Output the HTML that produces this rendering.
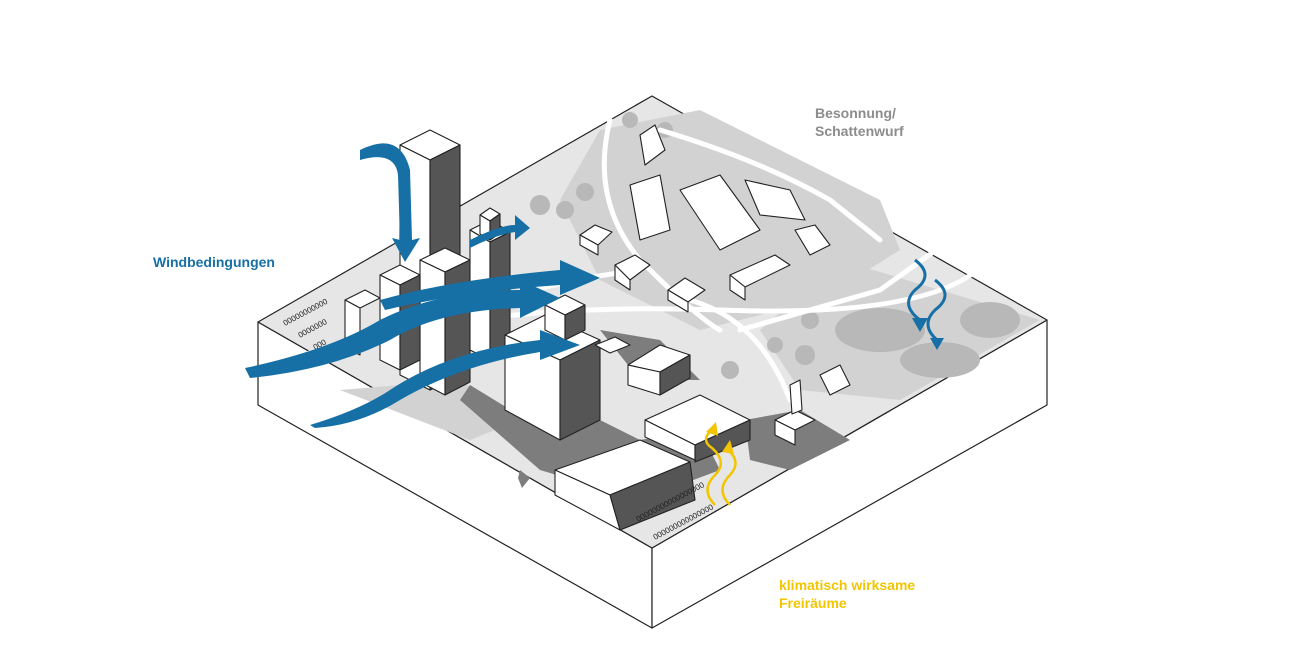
<!DOCTYPE html>
<html><head><meta charset="utf-8"><style>
html,body{margin:0;padding:0;background:#fff;width:1300px;height:668px;overflow:hidden}
svg{display:block}
.lbl{font-family:"Liberation Sans",sans-serif;font-weight:bold;font-size:14px}
.car{font-family:"Liberation Sans",sans-serif;font-weight:normal;font-size:8px;fill:#222}
</style></head><body>
<svg width="1300" height="668" viewBox="0 0 1300 668" xmlns="http://www.w3.org/2000/svg">
<g stroke="#222" stroke-width="1.2" stroke-linejoin="round">
<polygon points="258,322 652,548 652,628 258,405" fill="#fff"/>
<polygon points="652,548 1047,320 1047,405 652,628" fill="#fff"/>
<polygon points="258,322 652,96 1047,320 652,548" fill="#e6e6e6"/>
</g>
<g fill="#d2d2d2">
<polygon points="600,130 700,110 880,200 900,250 820,300 700,330 600,280 560,200"/>
<polygon points="840,260 1040,320 900,400 800,390 760,330"/>
<polygon points="340,390 460,380 520,420 470,440"/>
</g>
<g fill="#b8b8b8">
<ellipse cx="880" cy="330" rx="45" ry="22"/>
<ellipse cx="940" cy="360" rx="40" ry="18"/>
<ellipse cx="990" cy="320" rx="30" ry="18"/>
<circle cx="540" cy="205" r="10"/><circle cx="565" cy="210" r="9"/><circle cx="585" cy="192" r="9"/>
<circle cx="810" cy="320" r="9"/><circle cx="805" cy="355" r="10"/><circle cx="775" cy="345" r="8"/>
<circle cx="730" cy="370" r="9"/><circle cx="630" cy="120" r="8"/><circle cx="665" cy="130" r="8"/>
</g>
<g fill="#7d7d7d">
<polygon points="470,385 560,440 600,420 640,440 700,430 720,470 640,500 540,470 460,400"/>
<polygon points="600,330 660,340 700,380 640,380"/>
<polygon points="745,420 800,410 850,440 790,470 750,460"/>
<polygon points="520,470 530,478 522,488 518,478"/>
</g>
<g stroke="#fff" stroke-width="5" fill="none" stroke-linecap="round">
<path d="M258,370 Q450,300 720,310 T1000,230"/>
<path d="M610,120 Q590,200 640,260 Q700,320 720,330"/>
<path d="M640,270 Q560,280 500,300"/>
<path d="M690,300 Q760,320 790,400"/>
<path d="M740,330 L880,290 L950,240"/>
<path d="M660,130 Q760,160 830,200 L880,240"/>
</g>
<g stroke="#222" stroke-width="1.1" stroke-linejoin="round">
<polygon points="400,145 430,130 460,145 430,160" fill="#fff"/>
<polygon points="400,145 430,160 430,390 400,375" fill="#fff"/>
<polygon points="430,160 460,145 460,375 430,390" fill="#555"/>
<polygon points="420,260 445,248 470,260 445,272" fill="#fff"/>
<polygon points="420,260 445,272 445,395 420,382" fill="#fff"/>
<polygon points="445,272 470,260 470,382 445,395" fill="#555"/>
<polygon points="470,230 490,220 510,232 490,242" fill="#fff"/>
<polygon points="470,230 490,242 490,360 470,350" fill="#fff"/>
<polygon points="490,242 510,232 510,350 490,360" fill="#555"/>
<polygon points="480,215 490,208 500,214 490,221" fill="#fff"/>
<polygon points="480,215 490,221 490,240 480,234" fill="#fff"/>
<polygon points="490,221 500,214 500,233 490,240" fill="#555"/>
<polygon points="380,275 400,265 420,275 400,285" fill="#fff"/>
<polygon points="380,275 400,285 400,370 380,360" fill="#fff"/>
<polygon points="400,285 420,275 420,360 400,370" fill="#555"/>
<polygon points="345,300 365,290 380,298 360,308" fill="#fff"/>
<polygon points="345,300 360,308 360,355 345,347" fill="#fff"/>
<polygon points="505,335 545,315 600,340 560,360" fill="#fff"/>
<polygon points="505,335 560,360 560,440 505,410" fill="#fff"/>
<polygon points="560,360 600,340 600,420 560,440" fill="#555"/>
<polygon points="545,305 565,295 585,305 565,315" fill="#fff"/>
<polygon points="545,305 565,315 565,340 545,330" fill="#fff"/>
<polygon points="565,315 585,305 585,330 565,340" fill="#555"/>
<polygon points="595,345 615,337 630,345 610,353" fill="#fff"/>
<polygon points="628,365 660,345 690,355 660,372" fill="#fff"/>
<polygon points="628,365 660,372 660,395 628,385" fill="#fff"/>
<polygon points="660,372 690,355 690,378 660,395" fill="#555"/>
<polygon points="555,470 640,440 690,462 610,495" fill="#fff"/>
<polygon points="555,470 610,495 620,530 555,495" fill="#fff"/>
<polygon points="610,495 690,462 695,500 620,530" fill="#555"/>
<polygon points="645,420 700,395 750,420 695,445" fill="#fff"/>
<polygon points="645,420 695,445 695,460 645,437" fill="#fff"/>
<polygon points="695,445 750,420 750,440 695,462" fill="#555"/>
<polygon points="580,235 595,225 612,232 598,245" fill="#fff"/>
<polygon points="580,235 598,245 598,255 580,245" fill="#fff"/>
<polygon points="615,265 635,255 650,265 630,280" fill="#fff"/>
<polygon points="615,265 630,280 630,290 615,280" fill="#fff"/>
<polygon points="668,290 685,278 705,290 688,302" fill="#fff"/>
<polygon points="668,290 688,302 688,312 668,300" fill="#fff"/>
<polygon points="730,275 775,255 790,265 745,287" fill="#fff"/>
<polygon points="730,275 745,287 745,300 730,290" fill="#fff"/>
<polygon points="680,190 720,175 760,230 720,250" fill="#fff"/>
<polygon points="630,185 660,175 670,230 640,240" fill="#fff"/>
<polygon points="640,135 655,125 665,150 645,165" fill="#fff"/>
<polygon points="745,180 790,190 805,220 760,215" fill="#fff"/>
<polygon points="795,230 815,225 830,245 810,255" fill="#fff"/>
<polygon points="820,375 840,365 850,385 830,395" fill="#fff"/>
<polygon points="775,420 795,410 815,420 795,430" fill="#fff"/>
<polygon points="775,420 795,430 795,445 775,435" fill="#fff"/>
<polygon points="790,385 800,380 802,410 792,414" fill="#fff"/>
</g>
<text class="car" x="285" y="326" transform="rotate(-28 285 326)">00000000000</text>
<text class="car" x="300" y="338" transform="rotate(-28 300 338)">0000000</text>
<text class="car" x="315" y="350" transform="rotate(-28 315 350)">000</text>
<text class="car" x="655" y="540" transform="rotate(-28 655 540)">000000000000000</text>
<text class="car" x="638" y="522" transform="rotate(-28 638 522)">00000000000000000</text>
<g fill="#1670a5">
<path d="M360,150 Q400,130 410,170 L412,240 L420,238 L405,262 L392,238 L400,240 L398,175 Q395,150 360,160 Z"/>
<path d="M245,368 Q330,350 380,320 Q440,290 520,290 L520,280 L560,298 L520,318 L520,308 Q440,310 390,340 Q330,370 250,378 Z"/>
<path d="M310,425 Q360,410 390,390 Q450,350 540,340 L540,330 L580,345 L540,360 L540,352 Q460,365 400,400 Q360,425 315,428 Z"/>
<path d="M380,300 Q450,280 560,270 L560,260 L600,278 L560,295 L560,285 Q460,292 385,310 Z"/>
<path d="M470,240 Q500,225 515,225 L515,215 L530,228 L515,240 L515,232 Q495,235 470,248 Z"/>
</g>
<g fill="none" stroke="#1670a5" stroke-width="3">
<path d="M915,260 Q935,275 915,290 Q900,305 920,320"/>
<path d="M935,280 Q955,295 935,310 Q920,325 937,340"/>
</g>
<g fill="#1670a5"><polygon points="912,318 928,318 920,332"/><polygon points="930,338 944,338 937,350"/></g>
<g fill="none" stroke="#f2c500" stroke-width="2.5">
<path d="M715,505 Q700,490 715,475 Q728,462 712,448 Q700,440 712,430"/>
<path d="M730,505 Q715,490 730,475 Q742,462 728,450"/>
</g>
<g fill="#f2c500"><polygon points="706,432 716,422 718,436"/><polygon points="722,452 730,440 734,454"/></g>
<text class="lbl" x="153" y="267" fill="#1670a5">Windbedingungen</text>
<text class="lbl" x="815" y="118" fill="#8c8c8c">Besonnung/</text>
<text class="lbl" x="815" y="136" fill="#8c8c8c">Schattenwurf</text>
<text class="lbl" x="779" y="590" fill="#f2c500">klimatisch wirksame</text>
<text class="lbl" x="779" y="608" fill="#f2c500">Freiräume</text>
</svg>
</body></html>
